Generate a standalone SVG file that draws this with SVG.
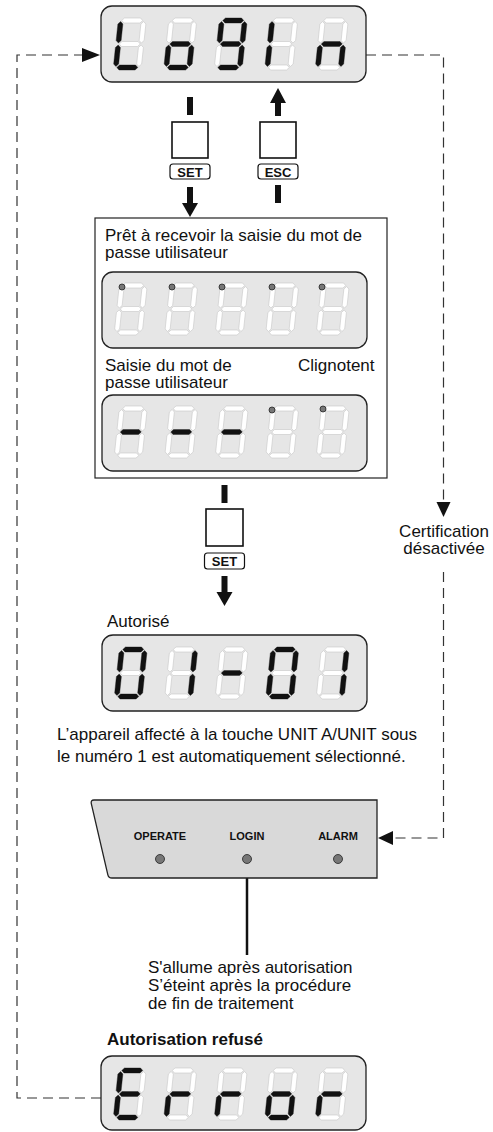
<svg xmlns="http://www.w3.org/2000/svg" width="493" height="1132" viewBox="0 0 493 1132">
<style>
text{font-family:"Liberation Sans",Arial,Helvetica,sans-serif;fill:#111}
.t{font-size:17px}
.b{font-weight:bold}
.sm{font-size:11px;font-weight:bold}
.k{font-size:13px;font-weight:bold}
.disp{fill:#e6e6e6;stroke:#222;stroke-width:1.3}
.off{fill:#fff;stroke:#c8c8c8;stroke-width:0.6}
.on{fill:#111;stroke:#111;stroke-width:0.3}
.dash{fill:none;stroke:#333;stroke-width:1.2;stroke-dasharray:10 6}
.key{fill:#fff;stroke:#111;stroke-width:1.6}
.lbl{fill:#fff;stroke:#111;stroke-width:1.2}
.dot{fill:#777;stroke:#222;stroke-width:0.8}
.blk{fill:#111}
.ln{stroke:#111;stroke-width:1;fill:none}
</style>
<defs>
<polygon id="sa" points="3.5,2.5 6,0 22,0 24.5,2.5 22,5 6,5"/>
<polygon id="sg" points="3.5,26 6,23.5 22,23.5 24.5,26 22,28.5 6,28.5"/>
<polygon id="sd" points="3.5,49.5 6,47 22,47 24.5,49.5 22,52 6,52"/>
<polygon id="sf" points="2.5,3.5 5,6 5,22.5 2.5,25 0,22.5 0,6"/>
<polygon id="se" points="2.5,27 5,29.5 5,46 2.5,48.5 0,46 0,29.5"/>
<polygon id="sb" points="25.5,3.5 28,6 28,22.5 25.5,25 23,22.5 23,6"/>
<polygon id="sc" points="25.5,27 28,29.5 28,46 25.5,48.5 23,46 23,29.5"/>
<g id="d8" class="off"><use href="#sa"/><use href="#sb"/><use href="#sc"/><use href="#sd"/><use href="#se"/><use href="#sf"/><use href="#sg"/></g>
</defs>

<g id="connectors">
<polyline class="dash" points="366,55 443.5,55 443.5,502"/>
<polygon class="blk" points="436.5,502 450.5,502 443.5,517"/>
<polyline class="dash" points="443.5,572 443.5,838 393,838"/>
<polygon class="blk" points="393,831 393,845 378,838"/>
<polyline class="dash" points="101,1098 17,1098 17,55 82,55"/>
<polygon class="blk" points="82,48 82,62 100,55"/>
<rect class="blk" x="187" y="97" width="6" height="18"/>
<rect class="blk" x="187" y="187" width="6" height="16"/>
<polygon class="blk" points="182,203 198,203 190,217"/>
<polygon class="blk" points="278,88 270,103 286,103"/>
<rect class="blk" x="275" y="103" width="6" height="13"/>
<rect class="blk" x="275" y="185" width="6" height="18"/>
<rect class="blk" x="221.5" y="485" width="6" height="18"/>
<rect class="blk" x="221.5" y="576" width="6" height="16"/>
<polygon class="blk" points="216.5,592 232.5,592 224.5,606"/>
<line class="ln" x1="331" y1="381" x2="272" y2="410"/>
<line class="ln" x1="331" y1="381" x2="323" y2="409"/>
<line x1="247" y1="864" x2="247" y2="955" stroke="#111" stroke-width="2.5"/>
</g>

<g id="display-login">
<rect class="disp" x="101" y="6" width="265" height="76" rx="11"/>
<g transform="translate(118.5,18) skewX(-6)"><use href="#d8"/><use href="#sf" class="on"/><use href="#se" class="on"/><use href="#sd" class="on"/></g>
<g transform="translate(169,18) skewX(-6)"><use href="#d8"/><use href="#sg" class="on"/><use href="#sc" class="on"/><use href="#sd" class="on"/><use href="#se" class="on"/></g>
<g transform="translate(219.5,18) skewX(-6)"><use href="#d8"/><use href="#sa" class="on"/><use href="#sb" class="on"/><use href="#sc" class="on"/><use href="#sd" class="on"/><use href="#sf" class="on"/><use href="#sg" class="on"/></g>
<g transform="translate(270,18) skewX(-6)"><use href="#d8"/><use href="#sf" class="on"/><use href="#se" class="on"/></g>
<g transform="translate(320.5,18) skewX(-6)"><use href="#d8"/><use href="#se" class="on"/><use href="#sg" class="on"/><use href="#sc" class="on"/></g>
</g>

<g id="key-set-1">
<rect class="key" x="172" y="122" width="36" height="36"/>
<rect class="lbl" x="170" y="164" width="40" height="15" rx="3"/>
<text class="k" x="190" y="176.5" text-anchor="middle">SET</text>
</g>
<g id="key-esc">
<rect class="key" x="260" y="122" width="36" height="36"/>
<rect class="lbl" x="258" y="164" width="40" height="15" rx="3"/>
<text class="k" x="278" y="176.5" text-anchor="middle">ESC</text>
</g>

<g id="password-box">
<rect x="95" y="218" width="292" height="260" fill="#fff" stroke="#222" stroke-width="1.2"/>
<text class="t" x="105" y="241">Prêt à recevoir la saisie du mot de</text>
<text class="t" x="105" y="258">passe utilisateur</text>
<g id="display-ready">
<rect class="disp" x="102" y="272" width="265" height="76" rx="11"/>
<g transform="translate(119.5,283) skewX(-6)"><use href="#d8"/></g>
<g transform="translate(170,283) skewX(-6)"><use href="#d8"/></g>
<g transform="translate(220.5,283) skewX(-6)"><use href="#d8"/></g>
<g transform="translate(271,283) skewX(-6)"><use href="#d8"/></g>
<g transform="translate(321.5,283) skewX(-6)"><use href="#d8"/></g>
<circle class="dot" cx="122" cy="287" r="3"/>
<circle class="dot" cx="172" cy="287" r="3"/>
<circle class="dot" cx="222" cy="287" r="3"/>
<circle class="dot" cx="272" cy="287" r="3"/>
<circle class="dot" cx="322" cy="287" r="3"/>
</g>
<text class="t" x="105" y="371">Saisie du mot de</text>
<text class="t" x="105" y="388">passe utilisateur</text>
<text class="t" x="298" y="371">Clignotent</text>
<g id="display-entry">
<rect class="disp" x="102" y="395" width="265" height="76" rx="11"/>
<g transform="translate(119.5,406) skewX(-6)"><use href="#d8"/><use href="#sg" class="on"/></g>
<g transform="translate(170,406) skewX(-6)"><use href="#d8"/><use href="#sg" class="on"/></g>
<g transform="translate(220.5,406) skewX(-6)"><use href="#d8"/><use href="#sg" class="on"/></g>
<g transform="translate(271,406) skewX(-6)"><use href="#d8"/></g>
<g transform="translate(321.5,406) skewX(-6)"><use href="#d8"/></g>
<circle class="dot" cx="272" cy="410" r="3"/>
<circle class="dot" cx="323" cy="409" r="3"/>
</g>
</g>

<g id="key-set-2">
<rect class="key" x="206" y="509" width="37" height="37"/>
<rect class="lbl" x="204.5" y="553" width="40" height="16" rx="3"/>
<text class="k" x="224.5" y="566" text-anchor="middle">SET</text>
</g>

<g id="label-cert">
<text class="t" x="444" y="537" text-anchor="middle">Certification</text>
<text class="t" x="444" y="554" text-anchor="middle">désactivée</text>
</g>

<g id="display-authorised">
<text class="t" x="107" y="627">Autorisé</text>
<rect class="disp" x="102" y="635" width="265" height="76" rx="11"/>
<g transform="translate(119.5,647) skewX(-6)"><use href="#d8"/><use href="#sa" class="on"/><use href="#sb" class="on"/><use href="#sc" class="on"/><use href="#sd" class="on"/><use href="#se" class="on"/><use href="#sf" class="on"/></g>
<g transform="translate(170,647) skewX(-6)"><use href="#d8"/><use href="#sb" class="on"/><use href="#sc" class="on"/></g>
<g transform="translate(220.5,647) skewX(-6)"><use href="#d8"/><use href="#sg" class="on"/></g>
<g transform="translate(271,647) skewX(-6)"><use href="#d8"/><use href="#sa" class="on"/><use href="#sb" class="on"/><use href="#sc" class="on"/><use href="#sd" class="on"/><use href="#se" class="on"/><use href="#sf" class="on"/></g>
<g transform="translate(321.5,647) skewX(-6)"><use href="#d8"/><use href="#sb" class="on"/><use href="#sc" class="on"/></g>
</g>

<g id="note-unit">
<text class="t" x="57" y="740">L’appareil affecté à la touche UNIT A/UNIT sous</text>
<text class="t" x="57" y="762">le numéro 1 est automatiquement sélectionné.</text>
</g>

<g id="panel">
<path d="M94,800 H377 V878 H112 Q108.5,878 107.8,874.6 L91.3,803.6 Q90.6,800 94,800 Z" fill="#d9d9d9" stroke="#222" stroke-width="1.3"/>
<text class="sm" x="160" y="840" text-anchor="middle">OPERATE</text>
<text class="sm" x="247" y="840" text-anchor="middle">LOGIN</text>
<text class="sm" x="338" y="840" text-anchor="middle">ALARM</text>
<circle class="dot" cx="160" cy="859" r="4.5"/>
<circle class="dot" cx="247" cy="859" r="4.5"/>
<circle class="dot" cx="338" cy="859" r="4.5"/>
</g>

<g id="note-login">
<text class="t" x="148" y="973">S'allume après autorisation</text>
<text class="t" x="148" y="991">S’éteint après la procédure</text>
<text class="t" x="148" y="1009">de fin de traitement</text>
</g>

<g id="display-error">
<text class="t b" x="107" y="1045">Autorisation refusé</text>
<rect class="disp" x="101" y="1056" width="265" height="74" rx="11"/>
<g transform="translate(118.5,1068) skewX(-6)"><use href="#d8"/><use href="#sa" class="on"/><use href="#sf" class="on"/><use href="#sg" class="on"/><use href="#se" class="on"/><use href="#sd" class="on"/></g>
<g transform="translate(169,1068) skewX(-6)"><use href="#d8"/><use href="#se" class="on"/><use href="#sg" class="on"/></g>
<g transform="translate(219.5,1068) skewX(-6)"><use href="#d8"/><use href="#se" class="on"/><use href="#sg" class="on"/></g>
<g transform="translate(270,1068) skewX(-6)"><use href="#d8"/><use href="#sg" class="on"/><use href="#sc" class="on"/><use href="#sd" class="on"/><use href="#se" class="on"/></g>
<g transform="translate(320.5,1068) skewX(-6)"><use href="#d8"/><use href="#se" class="on"/><use href="#sg" class="on"/></g>
</g>
</svg>
